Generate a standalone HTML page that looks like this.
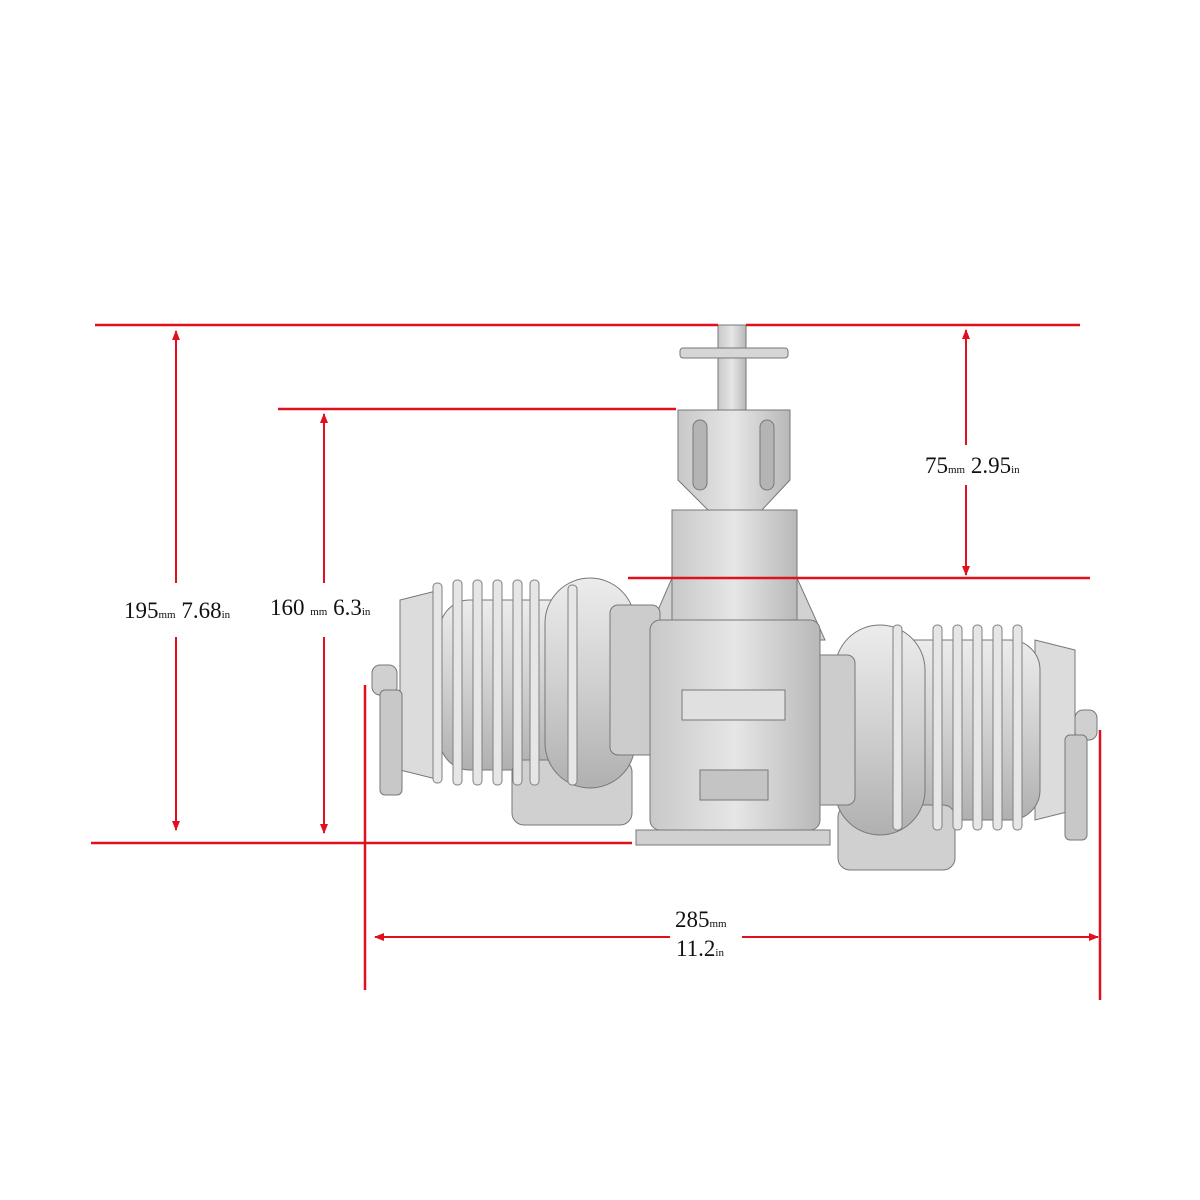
<!DOCTYPE html>
<html><head><style>
html,body{margin:0;padding:0;background:#fff;}
svg{display:block;}
text{font-family:"Liberation Serif",serif;fill:#111;}
</style></head><body>
<svg width="1200" height="1200" viewBox="0 0 1200 1200" xmlns="http://www.w3.org/2000/svg">
<defs>
<marker id="a" markerWidth="10" markerHeight="10" refX="9" refY="5" orient="auto" markerUnits="userSpaceOnUse"><path d="M0,1 L10,5 L0,9 Z" fill="#e0101e"/></marker>
<linearGradient id="g" x1="0" y1="0" x2="0" y2="1"><stop offset="0" stop-color="#ececec"/><stop offset="0.5" stop-color="#d0d0d0"/><stop offset="1" stop-color="#b0b0b0"/></linearGradient>
<linearGradient id="h" x1="0" y1="0" x2="1" y2="0"><stop offset="0" stop-color="#c8c8c8"/><stop offset="0.5" stop-color="#e6e6e6"/><stop offset="1" stop-color="#b8b8b8"/></linearGradient>
</defs>
<g stroke="#777" stroke-width="1">
<rect x="718" y="325" width="28" height="90" fill="url(#h)"/>
<rect x="680" y="348" width="108" height="10" rx="3" fill="#d6d6d6"/>
<path d="M678,410 L790,410 L790,480 L760,512 L710,512 L678,480 Z" fill="url(#h)"/>
<rect x="693" y="420" width="14" height="70" rx="7" fill="#b4b4b4"/>
<rect x="760" y="420" width="14" height="70" rx="7" fill="#b4b4b4"/>
<path d="M645,640 L672,578 L797,578 L825,640 Z" fill="#d2d2d2"/>
<rect x="672" y="510" width="125" height="130" fill="url(#h)"/>
<path d="M400,600 L440,590 L440,780 L400,770 Z" fill="#dcdcdc"/>
<rect x="372" y="665" width="25" height="30" rx="8" fill="#d0d0d0"/>
<rect x="380" y="690" width="22" height="105" rx="5" fill="#c8c8c8"/>
<rect x="440" y="600" width="180" height="170" rx="30" fill="url(#g)"/>
<rect x="512" y="760" width="120" height="65" rx="12" fill="#d0d0d0"/>
<rect x="545" y="578" width="90" height="210" rx="45" fill="url(#g)"/>
<rect x="610" y="605" width="50" height="150" rx="8" fill="#cccccc"/>
<path d="M1075,650 L1035,640 L1035,820 L1075,810 Z" fill="#dcdcdc"/>
<rect x="1075" y="710" width="22" height="30" rx="8" fill="#d0d0d0"/>
<rect x="1065" y="735" width="22" height="105" rx="5" fill="#c8c8c8"/>
<rect x="850" y="640" width="190" height="180" rx="30" fill="url(#g)"/>
<rect x="838" y="805" width="117" height="65" rx="12" fill="#d0d0d0"/>
<rect x="835" y="625" width="90" height="210" rx="45" fill="url(#g)"/>
<rect x="805" y="655" width="50" height="150" rx="8" fill="#cccccc"/>
<rect x="650" y="620" width="170" height="210" rx="10" fill="url(#h)"/>
<rect x="682" y="690" width="103" height="30" fill="#e0e0e0"/>
<rect x="700" y="770" width="68" height="30" fill="#c4c4c4"/>
<rect x="636" y="830" width="194" height="15" fill="#d0d0d0"/>
</g>
<g fill="#e6e6e6" stroke="#808080" stroke-width="1">
<rect x="433" y="583" width="9" height="200" rx="4"/><rect x="453" y="580" width="9" height="205" rx="4"/>
<rect x="473" y="580" width="9" height="205" rx="4"/><rect x="493" y="580" width="9" height="205" rx="4"/>
<rect x="513" y="580" width="9" height="205" rx="4"/><rect x="530" y="580" width="9" height="205" rx="4"/>
<rect x="568" y="585" width="9" height="200" rx="4"/>
<rect x="893" y="625" width="9" height="205" rx="4"/><rect x="933" y="625" width="9" height="205" rx="4"/>
<rect x="953" y="625" width="9" height="205" rx="4"/><rect x="973" y="625" width="9" height="205" rx="4"/>
<rect x="993" y="625" width="9" height="205" rx="4"/><rect x="1013" y="625" width="9" height="205" rx="4"/>
</g>
<g stroke="#e0101e" stroke-width="2.5" fill="none">
<line x1="95" y1="325" x2="718" y2="325"/><line x1="746" y1="325" x2="1080" y2="325"/>
<line x1="278" y1="409" x2="676" y2="409"/>
<line x1="628" y1="578" x2="1090" y2="578"/>
<line x1="91" y1="843" x2="632" y2="843"/>
<line x1="365" y1="685" x2="365" y2="990"/>
<line x1="1100" y1="730" x2="1100" y2="1000"/>
</g>
<g stroke="#e0101e" stroke-width="2" fill="none">
<line x1="176" y1="583" x2="176" y2="331" marker-end="url(#a)"/>
<line x1="176" y1="637" x2="176" y2="830" marker-end="url(#a)"/>
<line x1="324" y1="583" x2="324" y2="414" marker-end="url(#a)"/>
<line x1="324" y1="637" x2="324" y2="833" marker-end="url(#a)"/>
<line x1="966" y1="445" x2="966" y2="330" marker-end="url(#a)"/>
<line x1="966" y1="485" x2="966" y2="575" marker-end="url(#a)"/>
<line x1="670" y1="937" x2="375" y2="937" marker-end="url(#a)"/>
<line x1="742" y1="937" x2="1098" y2="937" marker-end="url(#a)"/>
</g>
<text x="124" y="618" font-size="23">195<tspan font-size="11">mm</tspan> 7.68<tspan font-size="11">in</tspan></text>
<text x="270" y="615" font-size="23">160 <tspan font-size="11">mm</tspan> 6.3<tspan font-size="11">in</tspan></text>
<text x="925" y="473" font-size="23">75<tspan font-size="11">mm</tspan> 2.95<tspan font-size="11">in</tspan></text>
<text x="675" y="927" font-size="23">285<tspan font-size="11">mm</tspan></text>
<text x="676" y="956" font-size="23">11.2<tspan font-size="11">in</tspan></text>
</svg>
</body></html>
